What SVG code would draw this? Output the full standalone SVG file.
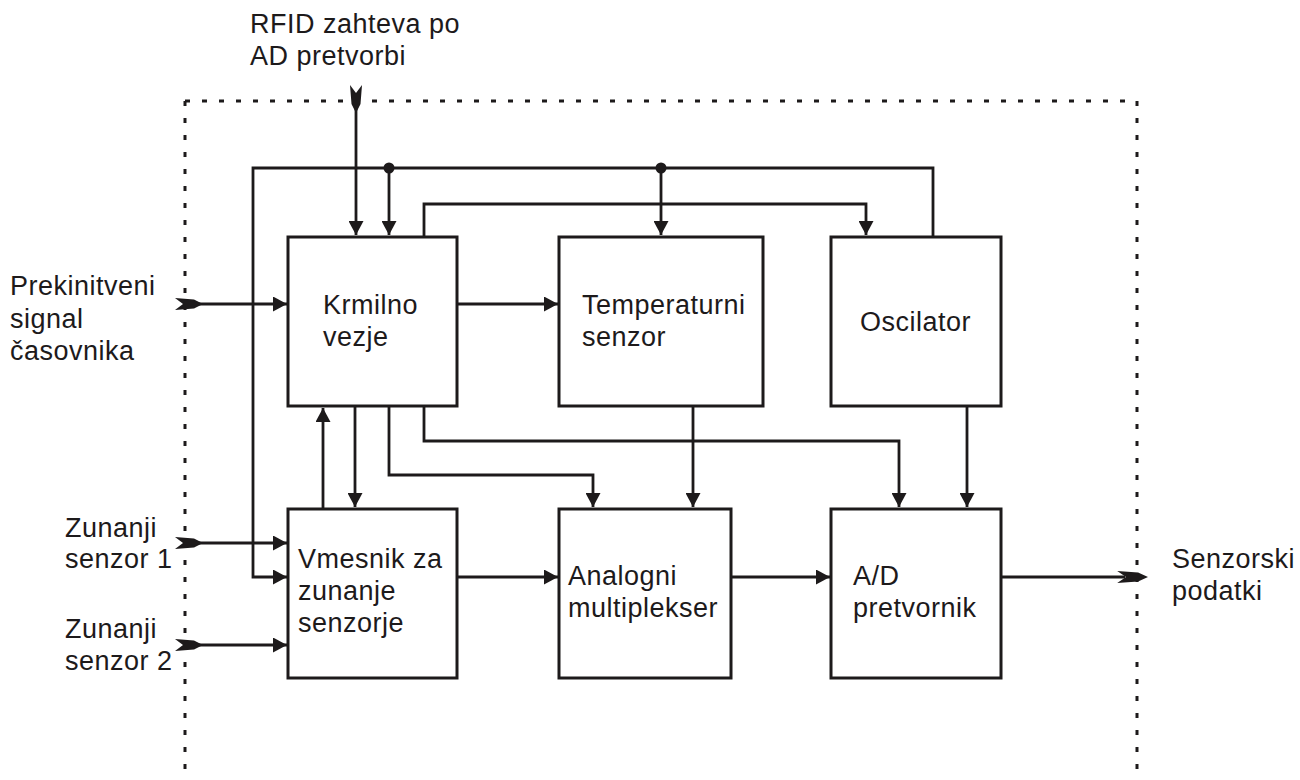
<svg xmlns="http://www.w3.org/2000/svg" width="1300" height="780" viewBox="0 0 1300 780">
  <style>
    .box { fill: #ffffff; stroke: #1d1a1b; stroke-width: 3; }
    .wire { fill: none; stroke: #1d1a1b; stroke-width: 2.8; }
    .arr { marker-end: url(#ah); }
    .border { fill: none; stroke: #1d1a1b; stroke-width: 3; stroke-dasharray: 5 12; }
    .port { fill: #1d1a1b; }
    .lbl { font-family: "Liberation Sans", Arial, sans-serif; font-size: 27px; letter-spacing: 0.5px; fill: #1d1a1b; }
  </style>
  <defs>
    <marker id="ah" markerUnits="userSpaceOnUse" markerWidth="14" markerHeight="15" refX="14" refY="7.5" orient="auto" viewBox="0 0 14 15">
      <path d="M0,0 L14,7.5 L0,15 Z" fill="#1d1a1b"/>
    </marker>
    <!-- swallowtail port glyph, tip at origin, pointing along +x -->
    <path id="port" d="M-28,-6 L-9,-4.5 L0,0 L-9,4.5 L-28,6 L-20,0 Z"/>
  </defs>

  <!-- system boundary -->
  <g id="boundary">
    <path class="border" d="M185,101 H1137 V780"/>
    <path class="border" d="M185,101 V780"/>
  </g>

  <!-- connectors -->
  <g id="connectors">
    <path class="wire arr" d="M933,237 V168 H253 V577 H287"/>
    <path class="wire arr" d="M389,168 V235"/>
    <path class="wire arr" d="M661,168 V235"/>
    <circle cx="389" cy="168" r="5.5" fill="#1d1a1b"/>
    <circle cx="661" cy="168" r="5.5" fill="#1d1a1b"/>
    <path class="wire arr" d="M356,105 V235"/>
    <path class="wire arr" d="M424,237 V204 H866 V235"/>
    <path class="wire arr" d="M198,304 H287"/>
    <path class="wire arr" d="M457,304 H558"/>
    <path class="wire arr" d="M323,509 V408"/>
    <path class="wire arr" d="M355,406 V507"/>
    <path class="wire arr" d="M389,406 V475 H593 V507"/>
    <path class="wire arr" d="M424,406 V441 H899 V507"/>
    <path class="wire arr" d="M693,406 V507"/>
    <path class="wire arr" d="M967,406 V507"/>
    <path class="wire arr" d="M457,577 H558"/>
    <path class="wire arr" d="M731,577 H830"/>
    <path class="wire" d="M1001,577 H1125"/>
    <path class="wire arr" d="M198,543 H287"/>
    <path class="wire arr" d="M198,645 H287"/>
    <!-- ports on the boundary -->
    <use href="#port" class="port" transform="translate(356,113) rotate(90)"/>
    <use href="#port" class="port" transform="translate(203,304)"/>
    <use href="#port" class="port" transform="translate(203,543)"/>
    <use href="#port" class="port" transform="translate(203,645)"/>
    <use href="#port" class="port" transform="translate(1148,577) scale(1.1,1)"/>
  </g>

  <g id="krmilno">
    <rect class="box" x="288" y="237" width="169" height="169"/>
    <text class="lbl" x="323" y="314">Krmilno</text>
    <text class="lbl" x="323" y="346">vezje</text>
  </g>
  <g id="temperaturni">
    <rect class="box" x="559" y="237" width="204" height="169"/>
    <text class="lbl" x="582" y="314">Temperaturni</text>
    <text class="lbl" x="582" y="346">senzor</text>
  </g>
  <g id="oscilator">
    <rect class="box" x="831" y="237" width="170" height="169"/>
    <text class="lbl" x="860" y="331">Oscilator</text>
  </g>
  <g id="vmesnik">
    <rect class="box" x="288" y="509" width="169" height="169"/>
    <text class="lbl" x="298" y="568">Vmesnik za</text>
    <text class="lbl" x="298" y="600">zunanje</text>
    <text class="lbl" x="298" y="632">senzorje</text>
  </g>
  <g id="multiplekser">
    <rect class="box" x="559" y="509" width="172" height="169"/>
    <text class="lbl" x="568" y="585">Analogni</text>
    <text class="lbl" x="568" y="617">multiplekser</text>
  </g>
  <g id="ad">
    <rect class="box" x="831" y="509" width="170" height="169"/>
    <text class="lbl" x="853" y="585">A/D</text>
    <text class="lbl" x="853" y="617">pretvornik</text>
  </g>

  <g id="labels">
    <text class="lbl" x="250" y="33">RFID zahteva po</text>
    <text class="lbl" x="250" y="65">AD pretvorbi</text>
    <text class="lbl" x="10" y="295">Prekinitveni</text>
    <text class="lbl" x="10" y="328">signal</text>
    <text class="lbl" x="10" y="360">časovnika</text>
    <text class="lbl" x="65" y="537">Zunanji</text>
    <text class="lbl" x="65" y="568">senzor 1</text>
    <text class="lbl" x="65" y="638">Zunanji</text>
    <text class="lbl" x="65" y="670">senzor 2</text>
    <text class="lbl" x="1172" y="568">Senzorski</text>
    <text class="lbl" x="1172" y="600">podatki</text>
  </g>
</svg>
